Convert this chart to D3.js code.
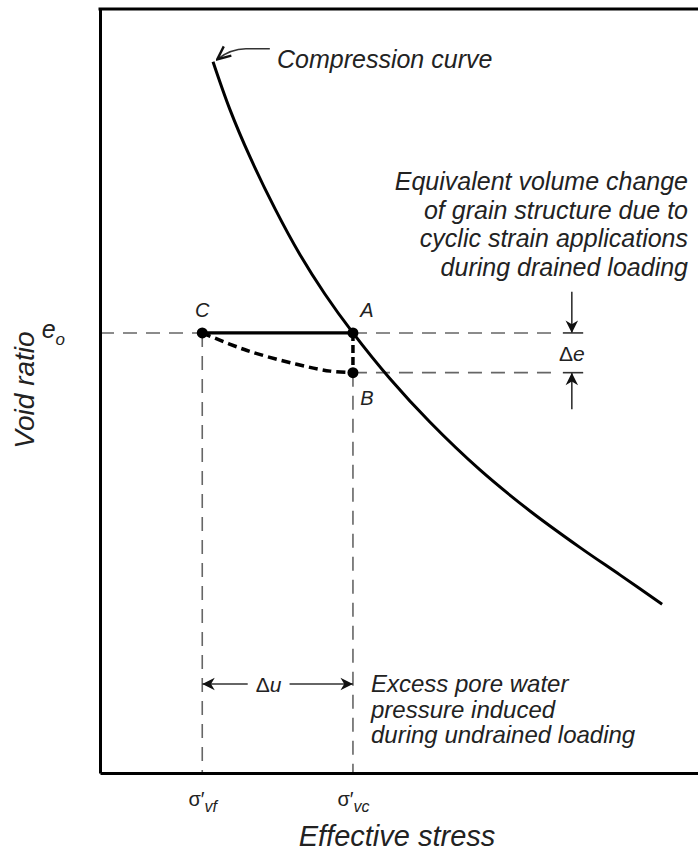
<!DOCTYPE html>
<html>
<head>
<meta charset="utf-8">
<script src="https://cdn.jsdelivr.net/npm/d3@7"></script>
<style>
  body { margin: 0; background: #fff; }
  svg text { font-family: "Liberation Sans", Arial, sans-serif; font-style: italic; fill: #222; }
</style>
</head>
<body>
<div class="plot"></div>
<script>
// compression curve (arbitrary stress / void ratio units)
const curveStress = [18.9, 21.7, 25.1, 29.3, 33.4, 37.6, 42.3, 48.5, 55.2, 63.5, 71.9, 80.3, 87.0, 94.0];
const curveVoid = [93.1, 86.9, 80.6, 73.8, 67.9, 62.7, 57.6, 51.6, 45.9, 39.7, 34.3, 29.5, 25.9, 22.1];

// undrained loading path C -> B
const pathStress = [17.1, 24.6, 32.9, 38.5, 42.3];
const pathVoid = [57.6, 55.3, 53.5, 52.6, 52.4];

const sigmaVf = 17.1, sigmaVc = 42.3;
const e0 = 57.6, eB = 52.4;

const points = [
    { name: "C", s: sigmaVf, e: e0 },
    { name: "A", s: sigmaVc, e: e0 },
    { name: "B", s: sigmaVc, e: eB }
];

const noteDrained = ["Equivalent volume change", "of grain structure due to", "cyclic strain applications", "during drained loading"];
const noteUndrained = ["Excess pore water", "pressure induced", "during undrained loading"];

const width = 698, height = 852;

const svg = d3.select(".plot")
    .append("svg")
    .attr("width", width)
    .attr("height", height);

const x = d3.scaleLinear().domain([0, 100]).range([100, 698]);
const y = d3.scaleLinear().domain([0, 100]).range([773, 9]);

const defs = svg.append("defs");
defs.append("marker")
    .attr("id", "head-bold")
    .attr("viewBox", "0 0 12 12")
    .attr("refX", 11).attr("refY", 6)
    .attr("markerWidth", 15).attr("markerHeight", 15)
    .attr("markerUnits", "userSpaceOnUse")
    .attr("orient", "auto")
    .append("path")
    .attr("d", "M1,1 L11,6 L1,11 L4,6 Z")
    .attr("fill", "#111");
defs.append("marker")
    .attr("id", "head-open")
    .attr("viewBox", "0 0 12 12")
    .attr("refX", 11).attr("refY", 6)
    .attr("markerWidth", 16).attr("markerHeight", 16)
    .attr("markerUnits", "userSpaceOnUse")
    .attr("orient", "auto")
    .append("path")
    .attr("d", "M1,1.5 L11,6 L1,10.5")
    .attr("fill", "none")
    .attr("stroke", "#111")
    .attr("stroke-width", 1.8);

const dashStyle = g => g
    .attr("stroke", "#666")
    .attr("stroke-width", 1.6)
    .attr("stroke-dasharray", "14,9")
    .attr("fill", "none");

// guide lines
const guides = svg.append("g");
guides.append("line")
    .attr("x1", x(0)).attr("x2", x(75.8))
    .attr("y1", y(e0)).attr("y2", y(e0))
    .call(dashStyle);
guides.append("line")
    .attr("x1", x(sigmaVc)).attr("x2", x(75.8))
    .attr("y1", y(eB)).attr("y2", y(eB))
    .call(dashStyle);
guides.append("line")
    .attr("x1", x(sigmaVf)).attr("x2", x(sigmaVf))
    .attr("y1", y(e0)).attr("y2", y(0))
    .call(dashStyle);
guides.append("line")
    .attr("x1", x(sigmaVc)).attr("x2", x(sigmaVc))
    .attr("y1", y(eB)).attr("y2", y(0))
    .call(dashStyle);

// axes (no ticks, just the frame and the labels)
const xAxis = svg.append("g")
    .attr("transform", `translate(0, ${y(0)})`)
    .call(d3.axisBottom(x).tickValues([sigmaVf, sigmaVc]).tickSize(0).tickSizeOuter(0).tickFormat(""));
xAxis.select(".domain").attr("stroke", "#000").attr("stroke-width", 3);
xAxis.selectAll(".tick text").remove();
xAxis.selectAll(".tick").each(function (d, i) {
    const t = d3.select(this).append("text")
        .attr("y", 33)
        .attr("text-anchor", "middle")
        .attr("font-size", 20)
        .style("font-style", "normal");
    t.append("tspan").text("σ\u2032");
    t.append("tspan").attr("dy", 6).attr("font-size", 16).style("font-style", "italic")
        .text(i === 0 ? "vf" : "vc");
});

const yAxis = svg.append("g")
    .attr("transform", `translate(${x(0)}, 0)`)
    .call(d3.axisLeft(y).tickValues([e0]).tickSize(0).tickSizeOuter(0).tickFormat(""));
yAxis.select(".domain").attr("stroke", "#000").attr("stroke-width", 3);
yAxis.selectAll(".tick text").remove();
const eLabel = yAxis.select(".tick").append("text")
    .attr("x", -35)
    .attr("y", 5)
    .attr("font-size", 25);
eLabel.append("tspan").text("e");
eLabel.append("tspan").attr("dy", 7).attr("font-size", 17).text("o");

svg.append("line")
    .attr("x1", x(0) - 1.5).attr("x2", x(100))
    .attr("y1", y(100)).attr("y2", y(100))
    .attr("stroke", "#000").attr("stroke-width", 3);

// compression curve
const line = d3.line()
    .curve(d3.curveCatmullRom)
    .x(d => x(d.s))
    .y(d => y(d.e));

svg.append("path")
    .datum(curveStress.map((s, i) => ({ s, e: curveVoid[i] })))
    .attr("d", line)
    .attr("fill", "none")
    .attr("stroke", "#000")
    .attr("stroke-width", 3);

// drained path C -> A
svg.append("line")
    .attr("x1", x(sigmaVf)).attr("x2", x(sigmaVc))
    .attr("y1", y(e0)).attr("y2", y(e0))
    .attr("stroke", "#000").attr("stroke-width", 3.2);

// undrained path C -> B and A -> B
svg.append("path")
    .datum(pathStress.map((s, i) => ({ s, e: pathVoid[i] })))
    .attr("d", line)
    .attr("fill", "none")
    .attr("stroke", "#000")
    .attr("stroke-width", 3.5)
    .attr("stroke-dasharray", "9,5");
svg.append("line")
    .attr("x1", x(sigmaVc)).attr("x2", x(sigmaVc))
    .attr("y1", y(e0)).attr("y2", y(eB))
    .attr("stroke", "#000").attr("stroke-width", 3.5)
    .attr("stroke-dasharray", "8,4");

svg.selectAll("circle.pt")
    .data(points)
    .enter().append("circle")
    .attr("class", "pt")
    .attr("cx", d => x(d.s))
    .attr("cy", d => y(d.e))
    .attr("r", 5.5)
    .attr("fill", "#000");

svg.selectAll("text.pt")
    .data(points)
    .enter().append("text")
    .attr("class", "pt")
    .attr("x", d => x(d.s) + (d.name === "C" ? 0 : 14))
    .attr("y", d => y(d.e) + (d.name === "B" ? 32 : -16))
    .attr("text-anchor", "middle")
    .attr("font-size", 20)
    .text(d => d.name);

// delta e arrows
const dex = x(78.9);
const arrows = svg.append("g").attr("stroke", "#333").attr("stroke-width", 1.6);
arrows.append("line")
    .attr("x1", dex).attr("x2", dex)
    .attr("y1", y(63.0)).attr("y2", y(e0))
    .attr("marker-end", "url(#head-bold)");
arrows.append("line")
    .attr("x1", dex).attr("x2", dex)
    .attr("y1", y(47.6)).attr("y2", y(eB))
    .attr("marker-end", "url(#head-bold)");
[e0, eB].forEach(v => {
    arrows.append("line")
        .attr("x1", x(77.4)).attr("x2", x(80.8))
        .attr("y1", y(v)).attr("y2", y(v));
});
svg.append("text")
    .attr("x", dex)
    .attr("y", (y(e0) + y(eB)) / 2 + 8)
    .attr("text-anchor", "middle")
    .attr("font-size", 21)
    .call(t => {
        t.append("tspan").style("font-style", "normal").text("Δ");
        t.append("tspan").text("e");
    });

// delta u arrow
const duY = y(11.65);
arrows.append("line")
    .attr("x1", x(24.7)).attr("x2", x(sigmaVf))
    .attr("y1", duY).attr("y2", duY)
    .attr("marker-end", "url(#head-bold)");
arrows.append("line")
    .attr("x1", x(31.7)).attr("x2", x(sigmaVc))
    .attr("y1", duY).attr("y2", duY)
    .attr("marker-end", "url(#head-bold)");
svg.append("text")
    .attr("x", x(28.2))
    .attr("y", duY + 8)
    .attr("text-anchor", "middle")
    .attr("font-size", 21)
    .call(t => {
        t.append("tspan").style("font-style", "normal").text("Δ");
        t.append("tspan").text("u");
    });

// compression curve leader
svg.append("path")
    .attr("d", `M${x(28.4)},${y(94.8)} L${x(24.4)},${y(94.8)} Q${x(21.8)},${y(94.8)} ${x(19.6)},${y(93.4)}`)
    .attr("fill", "none")
    .attr("stroke", "#333")
    .attr("stroke-width", 1.6)
    .attr("marker-end", "url(#head-open)");
svg.append("text")
    .attr("x", 277)
    .attr("y", 68)
    .attr("font-size", 25)
    .text("Compression curve");

// notes
svg.append("g")
    .selectAll("text")
    .data(noteDrained)
    .enter().append("text")
    .attr("x", 688)
    .attr("y", (d, i) => 190 + i * 28.5)
    .attr("text-anchor", "end")
    .attr("font-size", 25)
    .text(d => d);

svg.append("g")
    .selectAll("text")
    .data(noteUndrained)
    .enter().append("text")
    .attr("x", 371)
    .attr("y", (d, i) => 692 + i * 25.5)
    .attr("font-size", 24)
    .text(d => d);

// axis titles
svg.append("text")
    .attr("transform", "rotate(-90)")
    .attr("x", -390)
    .attr("y", 34)
    .attr("text-anchor", "middle")
    .attr("font-size", 28)
    .text("Void ratio");

svg.append("text")
    .attr("x", 397)
    .attr("y", 846)
    .attr("text-anchor", "middle")
    .attr("font-size", 29)
    .text("Effective stress");
</script>
</body>
</html>
